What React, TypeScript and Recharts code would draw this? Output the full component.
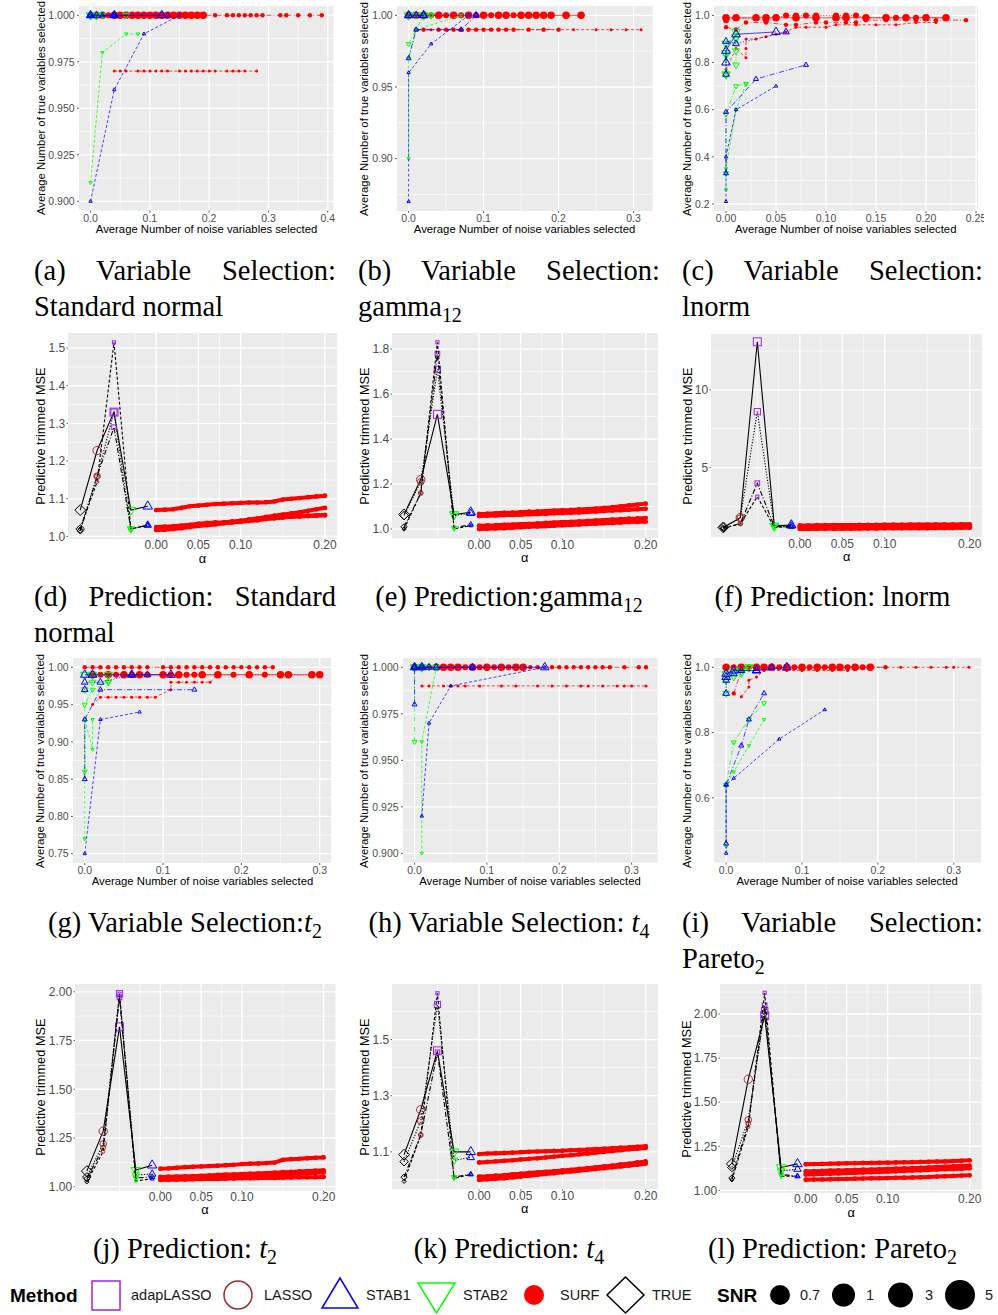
import React from "react";
import { ScatterChart, Scatter, XAxis, YAxis, CartesianGrid, ReferenceLine } from "recharts";

type Method = "adapLASSO" | "LASSO" | "STAB1" | "STAB2" | "SURF" | "TRUE";
type Snr = 0.7 | 1 | 3 | 5;

interface SelSeries { m: Method; snr: Snr; x: number[]; y: number | number[] }
interface MseSeries { snr: Snr; mse: number[] }

// ---- variable selection: x = avg noise vars selected, y = avg true vars selected ----

const selStdNormal: SelSeries[] = [
  { m: "SURF", snr: 5, x: [0.01, 0.02, 0.04, 0.05, 0.06, 0.07, 0.08, 0.09, 0.1, 0.11, 0.12, 0.13, 0.14, 0.15, 0.16, 0.17, 0.18, 0.19], y: 1 },
  { m: "SURF", snr: 3, x: [0, 0.01, 0.02, 0.03, 0.04, 0.05, 0.06, 0.07, 0.08, 0.09, 0.1, 0.11, 0.12, 0.13, 0.14, 0.15, 0.16, 0.17, 0.18, 0.19], y: 1 },
  { m: "SURF", snr: 1, x: [0.01, 0.02, 0.03, 0.04, 0.05, 0.06, 0.07, 0.08, 0.09, 0.1, 0.11, 0.12, 0.13, 0.14, 0.15, 0.16, 0.17, 0.18, 0.19, 0.21, 0.23, 0.24, 0.25, 0.26, 0.27, 0.28, 0.29, 0.32, 0.33, 0.35, 0.37, 0.39], y: 1 },
  { m: "SURF", snr: 0.7, x: [0.04, 0.05, 0.06, 0.08, 0.09, 0.1, 0.11, 0.12, 0.13, 0.15, 0.16, 0.17, 0.18, 0.19, 0.2, 0.21, 0.23, 0.24, 0.25, 0.26, 0.28], y: 0.97 },
  { m: "STAB2", snr: 5, x: [0, 0.01], y: 1 },
  { m: "STAB2", snr: 3, x: [0, 0.02, 0.06], y: 1 },
  { m: "STAB2", snr: 1, x: [0, 0.01, 0.02], y: 1 },
  { m: "STAB2", snr: 0.7, x: [0, 0.02, 0.06, 0.08], y: [0.91, 0.98, 0.99, 0.99] },
  { m: "STAB1", snr: 5, x: [0, 0.04, 0.12], y: 1 },
  { m: "STAB1", snr: 3, x: [0, 0.01, 0.04], y: 1 },
  { m: "STAB1", snr: 1, x: [0, 0.02, 0.04, 0.13], y: 1 },
  { m: "STAB1", snr: 0.7, x: [0, 0.04, 0.09, 0.15], y: [0.9, 0.96, 0.99, 1] },
];

const selGamma: SelSeries[] = [
  { m: "SURF", snr: 5, x: [0, 0.01, 0.02, 0.04, 0.06, 0.08, 0.1, 0.12, 0.13, 0.15, 0.16, 0.17, 0.18, 0.19, 0.21, 0.23], y: 1 },
  { m: "SURF", snr: 3, x: [0, 0.01, 0.02, 0.03, 0.04, 0.05, 0.06, 0.07, 0.08, 0.09, 0.1, 0.11, 0.12, 0.13, 0.14, 0.15, 0.16], y: 1 },
  { m: "SURF", snr: 1, x: [0.01, 0.02, 0.04, 0.05, 0.06, 0.07, 0.08, 0.09, 0.1, 0.11, 0.12, 0.13, 0.14, 0.16, 0.18, 0.2], y: 0.99 },
  { m: "SURF", snr: 0.7, x: [0.01, 0.02, 0.03, 0.04, 0.05, 0.06, 0.07, 0.08, 0.09, 0.1, 0.11, 0.12, 0.13, 0.14, 0.16, 0.18, 0.2, 0.22, 0.25, 0.27, 0.29, 0.31], y: 0.99 },
  { m: "STAB2", snr: 5, x: [0, 0.02], y: 1 },
  { m: "STAB2", snr: 3, x: [0, 0.01, 0.03], y: 1 },
  { m: "STAB2", snr: 1, x: [0, 0.02, 0.03], y: [0.98, 1, 1] },
  { m: "STAB2", snr: 0.7, x: [0, 0, 0.01, 0.07], y: [0.9, 0.97, 0.99, 1] },
  { m: "STAB1", snr: 5, x: [0, 0.02], y: 1 },
  { m: "STAB1", snr: 3, x: [0, 0.01, 0.02, 0.09], y: 1 },
  { m: "STAB1", snr: 1, x: [0, 0.01, 0.07, 0.09], y: [0.97, 0.99, 0.99, 1] },
  { m: "STAB1", snr: 0.7, x: [0, 0, 0.03, 0.08], y: [0.87, 0.96, 0.98, 1] },
];

const selLnorm: SelSeries[] = [
  { m: "SURF", snr: 5, x: [0, 0.01, 0.03, 0.04, 0.05, 0.07, 0.09, 0.11, 0.12, 0.14, 0.16, 0.18, 0.2, 0.22], y: 0.99 },
  { m: "SURF", snr: 3, x: [0, 0.01, 0.04, 0.06, 0.07, 0.08, 0.09, 0.11, 0.12, 0.13, 0.14, 0.16, 0.17, 0.18, 0.19, 0.2, 0.22], y: [0.98, 0.99, 0.98, 1, 1, 1, 1, 1, 1, 1, 0.99, 0.99, 0.99, 0.99, 0.99, 0.99, 0.99] },
  { m: "SURF", snr: 1, x: [0, 0.01, 0.02, 0.04, 0.06, 0.07, 0.09, 0.1, 0.12, 0.13, 0.14, 0.16, 0.19, 0.21, 0.24], y: [0.95, 0.94, 0.97, 0.97, 0.96, 0.96, 0.97, 0.97, 0.97, 0.97, 0.98, 0.98, 0.98, 0.98, 0.98] },
  { m: "SURF", snr: 0.7, x: [0, 0.01, 0.02, 0.02, 0.02, 0.03, 0.04, 0.05, 0.06, 0.07, 0.08, 0.1, 0.11, 0.13, 0.15, 0.17, 0.19, 0.21], y: [0.77, 0.86, 0.82, 0.86, 0.9, 0.9, 0.91, 0.92, 0.93, 0.95, 0.95, 0.95, 0.96, 0.96, 0.96, 0.96, 0.97, 0.97] },
  { m: "STAB2", snr: 5, x: [0, 0, 0, 0.01, 0.01], y: [0.75, 0.84, 0.88, 0.91, 0.93] },
  { m: "STAB2", snr: 3, x: [0, 0, 0.01, 0.01, 0.01], y: [0.75, 0.83, 0.79, 0.85, 0.9] },
  { m: "STAB2", snr: 1, x: [0, 0, 0.01, 0.02], y: [0.33, 0.58, 0.7, 0.71] },
  { m: "STAB2", snr: 0.7, x: [0, 0, 0.01, 0.02], y: [0.26, 0.35, 0.6, 0.71] },
  { m: "STAB1", snr: 5, x: [0, 0, 0.01, 0.05], y: [0.8, 0.85, 0.92, 0.93] },
  { m: "STAB1", snr: 3, x: [0, 0, 0.01, 0.06], y: [0.75, 0.89, 0.88, 0.93] },
  { m: "STAB1", snr: 1, x: [0, 0, 0.03, 0.08], y: [0.33, 0.59, 0.73, 0.79] },
  { m: "STAB1", snr: 0.7, x: [0, 0, 0.01, 0.05], y: [0.21, 0.4, 0.6, 0.7] },
];

const selT2: SelSeries[] = [
  { m: "SURF", snr: 5, x: [0.01, 0.03, 0.05, 0.07, 0.1, 0.12, 0.15, 0.17, 0.21, 0.25, 0.26, 0.29, 0.3], y: 0.99 },
  { m: "SURF", snr: 3, x: [0.01, 0.02, 0.03, 0.04, 0.05, 0.06, 0.07, 0.08, 0.1, 0.11, 0.12, 0.13, 0.14, 0.15, 0.17, 0.19, 0.21, 0.23, 0.25, 0.26, 0.29, 0.3], y: 0.99 },
  { m: "SURF", snr: 1, x: [0, 0.01, 0.02, 0.03, 0.04, 0.05, 0.06, 0.07, 0.08, 0.1, 0.11, 0.12, 0.13, 0.14, 0.15, 0.16, 0.17, 0.18, 0.19, 0.2, 0.21, 0.22, 0.23, 0.24], y: 1 },
  { m: "SURF", snr: 0.7, x: [0.01, 0.02, 0.03, 0.04, 0.05, 0.06, 0.07, 0.08, 0.09, 0.11, 0.11, 0.12, 0.13, 0.14, 0.15, 0.16, 0.17], y: [0.95, 0.96, 0.96, 0.96, 0.96, 0.96, 0.96, 0.96, 0.96, 0.97, 0.98, 0.98, 0.98, 0.98, 0.98, 0.98, 0.99] },
  { m: "STAB2", snr: 5, x: [0, 0.01, 0.03], y: 0.99 },
  { m: "STAB2", snr: 3, x: [0, 0.01, 0.03], y: [0.97, 0.98, 0.98] },
  { m: "STAB2", snr: 1, x: [0, 0, 0.01, 0.03], y: [0.86, 0.95, 0.97, 0.98] },
  { m: "STAB2", snr: 0.7, x: [0, 0, 0.01, 0.01], y: [0.77, 0.93, 0.89, 0.93] },
  { m: "STAB1", snr: 5, x: [0, 0.01, 0.06, 0.11], y: 0.99 },
  { m: "STAB1", snr: 3, x: [0, 0, 0.02, 0.06, 0.08], y: [0.97, 0.98, 0.98, 0.99, 0.99] },
  { m: "STAB1", snr: 1, x: [0, 0, 0.02, 0.14], y: [0.85, 0.93, 0.97, 0.97] },
  { m: "STAB1", snr: 0.7, x: [0, 0.02, 0.07], y: [0.75, 0.93, 0.94] },
];

const selT4: SelSeries[] = [
  { m: "SURF", snr: 5, x: [0, 0.01, 0.03, 0.04, 0.05, 0.06, 0.08, 0.1, 0.12, 0.14, 0.15], y: 1 },
  { m: "SURF", snr: 3, x: [0, 0.01, 0.02, 0.03, 0.04, 0.05, 0.06, 0.07, 0.08, 0.09, 0.1, 0.11, 0.12, 0.13, 0.14, 0.15], y: 1 },
  { m: "SURF", snr: 1, x: [0, 0.01, 0.02, 0.03, 0.04, 0.05, 0.06, 0.07, 0.08, 0.09, 0.1, 0.11, 0.12, 0.13, 0.14, 0.15, 0.16, 0.17, 0.19, 0.2, 0.21, 0.22, 0.23, 0.24, 0.25, 0.26, 0.27, 0.29, 0.31, 0.32], y: 1 },
  { m: "SURF", snr: 0.7, x: [0.01, 0.02, 0.04, 0.05, 0.06, 0.07, 0.09, 0.12, 0.14, 0.17, 0.19, 0.21, 0.23, 0.24, 0.26, 0.28, 0.29, 0.3, 0.32], y: 0.99 },
  { m: "STAB2", snr: 5, x: [0, 0.01], y: 1 },
  { m: "STAB2", snr: 3, x: [0, 0.02, 0.03], y: 1 },
  { m: "STAB2", snr: 1, x: [0, 0, 0.01, 0.03], y: [0.96, 1, 1, 1] },
  { m: "STAB2", snr: 0.7, x: [0.01, 0.01, 0.03], y: [0.9, 0.96, 1] },
  { m: "STAB1", snr: 5, x: [0, 0.01, 0.18], y: 1 },
  { m: "STAB1", snr: 3, x: [0, 0.02, 0.03, 0.08], y: 1 },
  { m: "STAB1", snr: 1, x: [0, 0, 0.01, 0.08], y: [0.98, 1, 1, 1] },
  { m: "STAB1", snr: 0.7, x: [0.01, 0.02, 0.05, 0.18], y: [0.92, 0.97, 0.99, 1] },
];

const selPareto: SelSeries[] = [
  { m: "SURF", snr: 5, x: [0, 0.02, 0.04, 0.05, 0.06, 0.08, 0.1, 0.12, 0.14, 0.15, 0.17, 0.19], y: 1 },
  { m: "SURF", snr: 3, x: [0, 0.01, 0.02, 0.03, 0.04, 0.05, 0.06, 0.07, 0.08, 0.09, 0.1, 0.11, 0.12, 0.13, 0.14, 0.15, 0.16, 0.17, 0.18, 0.19], y: 1 },
  { m: "SURF", snr: 1, x: [0.01, 0.02, 0.04, 0.06, 0.08, 0.1, 0.12, 0.13, 0.15, 0.16, 0.18, 0.19, 0.21], y: [0.92, 0.99, 1, 1, 1, 1, 1, 1, 1, 1, 1, 1, 1] },
  { m: "SURF", snr: 0.7, x: [0.02, 0.03, 0.03, 0.04, 0.05, 0.08, 0.1, 0.12, 0.14, 0.16, 0.19, 0.21, 0.23, 0.25, 0.27, 0.29, 0.3, 0.32], y: [0.91, 0.94, 0.96, 0.97, 0.99, 0.99, 0.99, 0.99, 0.99, 0.99, 1, 1, 1, 1, 1, 1, 1, 1] },
  { m: "STAB2", snr: 5, x: [0, 0.01, 0.02, 0.03], y: [0.98, 0.99, 0.99, 1] },
  { m: "STAB2", snr: 3, x: [0, 0, 0.01, 0.02, 0.03], y: [0.92, 0.96, 0.97, 0.98, 1] },
  { m: "STAB2", snr: 1, x: [0, 0.01, 0.03, 0.05], y: [0.64, 0.77, 0.84, 0.89] },
  { m: "STAB2", snr: 0.7, x: [0, 0, 0.01, 0.03, 0.05], y: [0.45, 0.64, 0.68, 0.76, 0.84] },
  { m: "STAB1", snr: 5, x: [0, 0, 0.01, 0.04, 0.08], y: [0.97, 0.98, 0.99, 0.99, 1] },
  { m: "STAB1", snr: 3, x: [0, 0, 0.01, 0.02, 0.04, 0.06], y: [0.92, 0.96, 0.98, 0.99, 0.99, 1] },
  { m: "STAB1", snr: 1, x: [0, 0, 0.02, 0.03, 0.05], y: [0.46, 0.64, 0.76, 0.84, 0.92] },
  { m: "STAB1", snr: 0.7, x: [0, 0, 0.01, 0.07, 0.13], y: [0.43, 0.64, 0.66, 0.78, 0.87] },
];

// ---- prediction: trimmed MSE per method (order of predMethods) ----

const predMethods: Method[] = ["TRUE", "LASSO", "adapLASSO", "STAB2", "STAB1"];

const predStdNormal: MseSeries[] = [
  { snr: 5, mse: [1.07, 1.228, 1.33, 1.07, 1.08] },
  { snr: 3, mse: [1.02, 1.16, 1.33, 1.02, 1.03] },
  { snr: 1, mse: [1.015, 1.16, 1.29, 1.02, 1.03] },
  { snr: 0.7, mse: [1.02, 1.145, 1.515, 1.02, 1.03] },
];
const predGamma: MseSeries[] = [
  { snr: 5, mse: [1.065, 1.22, 1.51, 1.065, 1.075] },
  { snr: 3, mse: [1.06, 1.21, 1.71, 1.06, 1.07] },
  { snr: 1, mse: [1.01, 1.16, 1.78, 1.005, 1.02] },
  { snr: 0.7, mse: [1.0, 1.16, 1.83, 1.0, 1.015] },
];
const predLnorm: MseSeries[] = [
  { snr: 5, mse: [1.15, 1.78, 13.1, 1.25, 1.3] },
  { snr: 3, mse: [1.15, 1.75, 8.6, 1.25, 1.25] },
  { snr: 1, mse: [1.1, 1.4, 4.0, 1.2, 1.2] },
  { snr: 0.7, mse: [1.1, 1.37, 3.13, 1.15, 1.2] },
];
const predT2: MseSeries[] = [
  { snr: 5, mse: [1.08, 1.285, 1.82, 1.085, 1.11] },
  { snr: 3, mse: [1.05, 1.22, 1.99, 1.06, 1.065] },
  { snr: 1, mse: [1.04, 1.2, 1.97, 1.045, 1.05] },
  { snr: 0.7, mse: [1.025, 1.18, 1.99, 1.03, 1.04] },
];
const predT4: MseSeries[] = [
  { snr: 5, mse: [1.09, 1.25, 1.46, 1.1, 1.1] },
  { snr: 3, mse: [1.065, 1.21, 1.625, 1.07, 1.08] },
  { snr: 1, mse: [1.01, 1.16, 1.455, 1.01, 1.02] },
  { snr: 0.7, mse: [0.995, 1.16, 1.665, 1.005, 1.02] },
];
const predPareto: MseSeries[] = [
  { snr: 5, mse: [1.15, 1.63, 1.99, 1.13, 1.15] },
  { snr: 3, mse: [1.13, 1.4, 2.02, 1.11, 1.12] },
  { snr: 1, mse: [1.07, 1.38, 2.05, 1.09, 1.08] },
  { snr: 0.7, mse: [1.06, 1.36, 2.12, 1.08, 1.08] },
];

// SURF trimmed MSE along alpha
const alphaGrid = [0, 0.01, 0.02, 0.03, 0.04, 0.05, 0.06, 0.07, 0.08, 0.09, 0.1, 0.11, 0.12, 0.13, 0.14, 0.15, 0.16, 0.17, 0.18, 0.19, 0.2];

const surfStdNormal: MseSeries[] = [
  { snr: 5, mse: [1.07, 1.071, 1.072, 1.076, 1.08, 1.082, 1.084, 1.086, 1.087, 1.088, 1.089, 1.09, 1.09, 1.091, 1.093, 1.098, 1.1, 1.102, 1.104, 1.106, 1.108] },
  { snr: 3, mse: [1.025, 1.026, 1.027, 1.029, 1.031, 1.034, 1.036, 1.037, 1.038, 1.04, 1.042, 1.045, 1.048, 1.052, 1.055, 1.058, 1.061, 1.064, 1.068, 1.072, 1.076] },
  { snr: 1, mse: [1.02, 1.021, 1.023, 1.025, 1.027, 1.03, 1.032, 1.034, 1.036, 1.038, 1.04, 1.042, 1.044, 1.047, 1.049, 1.051, 1.053, 1.054, 1.055, 1.056, 1.057] },
  { snr: 0.7, mse: [1.017, 1.018, 1.02, 1.022, 1.025, 1.028, 1.03, 1.032, 1.035, 1.037, 1.039, 1.041, 1.043, 1.046, 1.048, 1.05, 1.052, 1.053, 1.054, 1.055, 1.056] },
];
const surfGamma: MseSeries[] = [
  { snr: 5, mse: [1.067, 1.068, 1.07, 1.072, 1.073, 1.075, 1.077, 1.078, 1.08, 1.082, 1.084, 1.085, 1.087, 1.089, 1.091, 1.094, 1.097, 1.101, 1.105, 1.109, 1.113] },
  { snr: 3, mse: [1.058, 1.059, 1.06, 1.062, 1.063, 1.064, 1.066, 1.067, 1.068, 1.07, 1.071, 1.073, 1.074, 1.076, 1.078, 1.08, 1.082, 1.084, 1.086, 1.088, 1.09] },
  { snr: 1, mse: [1.015, 1.016, 1.017, 1.019, 1.02, 1.022, 1.023, 1.025, 1.027, 1.029, 1.031, 1.032, 1.034, 1.036, 1.038, 1.04, 1.042, 1.044, 1.046, 1.047, 1.049] },
  { snr: 0.7, mse: [1.0, 1.001, 1.003, 1.004, 1.006, 1.008, 1.01, 1.011, 1.013, 1.015, 1.017, 1.018, 1.02, 1.022, 1.024, 1.026, 1.027, 1.029, 1.031, 1.032, 1.033] },
];
const surfLnorm: MseSeries[] = [
  { snr: 5, mse: [1.28, 1.28, 1.29, 1.29, 1.3, 1.3, 1.3, 1.31, 1.31, 1.31, 1.32, 1.32, 1.32, 1.33, 1.33, 1.33, 1.34, 1.34, 1.34, 1.35, 1.35] },
  { snr: 3, mse: [1.2, 1.2, 1.21, 1.21, 1.22, 1.22, 1.22, 1.23, 1.23, 1.24, 1.24, 1.24, 1.25, 1.25, 1.26, 1.26, 1.26, 1.27, 1.27, 1.28, 1.28] },
  { snr: 1, mse: [1.12, 1.12, 1.13, 1.13, 1.14, 1.14, 1.14, 1.15, 1.15, 1.16, 1.16, 1.16, 1.17, 1.17, 1.18, 1.18, 1.18, 1.19, 1.19, 1.2, 1.2] },
  { snr: 0.7, mse: [1.05, 1.05, 1.06, 1.06, 1.06, 1.07, 1.07, 1.07, 1.08, 1.08, 1.09, 1.09, 1.09, 1.1, 1.1, 1.1, 1.11, 1.11, 1.11, 1.12, 1.12] },
];
const surfT2: MseSeries[] = [
  { snr: 5, mse: [1.092, 1.094, 1.097, 1.1, 1.102, 1.104, 1.106, 1.108, 1.11, 1.112, 1.116, 1.118, 1.119, 1.121, 1.124, 1.138, 1.141, 1.143, 1.146, 1.148, 1.15] },
  { snr: 3, mse: [1.05, 1.051, 1.052, 1.053, 1.054, 1.056, 1.058, 1.06, 1.062, 1.063, 1.065, 1.067, 1.068, 1.07, 1.072, 1.074, 1.076, 1.078, 1.08, 1.082, 1.084] },
  { snr: 1, mse: [1.04, 1.041, 1.042, 1.043, 1.044, 1.046, 1.047, 1.049, 1.05, 1.052, 1.054, 1.056, 1.057, 1.059, 1.061, 1.063, 1.065, 1.067, 1.069, 1.071, 1.073] },
  { snr: 0.7, mse: [1.034, 1.035, 1.036, 1.037, 1.038, 1.039, 1.04, 1.04, 1.041, 1.042, 1.043, 1.043, 1.044, 1.045, 1.045, 1.046, 1.047, 1.048, 1.048, 1.049, 1.05] },
];
const surfT4: MseSeries[] = [
  { snr: 5, mse: [1.092, 1.094, 1.095, 1.096, 1.097, 1.099, 1.1, 1.101, 1.102, 1.103, 1.104, 1.106, 1.107, 1.108, 1.11, 1.111, 1.113, 1.115, 1.116, 1.118, 1.12] },
  { snr: 3, mse: [1.062, 1.064, 1.066, 1.068, 1.07, 1.073, 1.075, 1.077, 1.08, 1.083, 1.086, 1.088, 1.091, 1.094, 1.097, 1.1, 1.103, 1.106, 1.109, 1.111, 1.114] },
  { snr: 1, mse: [1.012, 1.013, 1.015, 1.017, 1.02, 1.022, 1.025, 1.027, 1.029, 1.031, 1.034, 1.036, 1.039, 1.042, 1.045, 1.048, 1.051, 1.055, 1.058, 1.062, 1.066] },
  { snr: 0.7, mse: [1.0, 1.002, 1.004, 1.006, 1.009, 1.012, 1.015, 1.018, 1.021, 1.024, 1.027, 1.03, 1.033, 1.036, 1.039, 1.042, 1.045, 1.048, 1.051, 1.054, 1.058] },
];
const surfPareto: MseSeries[] = [
  { snr: 5, mse: [1.148, 1.149, 1.15, 1.151, 1.152, 1.153, 1.154, 1.155, 1.155, 1.156, 1.157, 1.158, 1.159, 1.16, 1.161, 1.162, 1.163, 1.164, 1.166, 1.168, 1.17] },
  { snr: 3, mse: [1.108, 1.109, 1.11, 1.112, 1.113, 1.114, 1.116, 1.117, 1.118, 1.12, 1.121, 1.123, 1.124, 1.126, 1.128, 1.13, 1.132, 1.134, 1.136, 1.138, 1.14] },
  { snr: 1, mse: [1.09, 1.091, 1.093, 1.094, 1.096, 1.098, 1.099, 1.101, 1.103, 1.104, 1.106, 1.108, 1.11, 1.112, 1.114, 1.116, 1.118, 1.12, 1.121, 1.123, 1.125] },
  { snr: 0.7, mse: [1.06, 1.061, 1.062, 1.063, 1.064, 1.065, 1.066, 1.067, 1.068, 1.069, 1.07, 1.071, 1.072, 1.073, 1.074, 1.076, 1.078, 1.08, 1.082, 1.084, 1.085] },
];

// ---- styling ----

const SANS = "'Liberation Sans', Arial, Helvetica, sans-serif";
const SERIF = "'Liberation Serif', 'Times New Roman', serif";

const COLOR: Record<Method, string> = {
  adapLASSO: "#A020F0",
  LASSO: "#A52A2A",
  STAB1: "#0000FF",
  STAB2: "#00FF00",
  SURF: "#FF0000",
  TRUE: "#000000",
};
const RADIUS: Record<number, number> = { 0.7: 1.5, 1: 2.2, 3: 3, 5: 3.8 };
const DASH: Record<number, string | undefined> = { 0.7: "3 2", 1: "5 2 1 2", 3: "1.2 1.6", 5: undefined };
const drawOrder: Method[] = ["SURF", "TRUE", "adapLASSO", "LASSO", "STAB2", "STAB1"];

// method slots left of alpha = 0 on the prediction axis
const SLOT_START = -0.09;
const SLOT_STEP = 0.02;

function Marker({ cx, cy, m, r }: { cx: number; cy: number; m: Method; r: number }) {
  const c = COLOR[m];
  const sw = 1;
  if (cx == null || cy == null) return null;
  switch (m) {
    case "SURF":
      return <circle cx={cx} cy={cy} r={r} fill={c} />;
    case "LASSO":
      return <circle cx={cx} cy={cy} r={r} fill="none" stroke={c} strokeWidth={sw} />;
    case "adapLASSO": {
      const h = r * 0.95;
      return <rect x={cx - h} y={cy - h} width={2 * h} height={2 * h} fill="none" stroke={c} strokeWidth={sw} />;
    }
    case "STAB1": {
      const R = r * 1.3;
      return <polygon points={`${cx},${cy - R} ${cx - R * 0.87},${cy + R * 0.5} ${cx + R * 0.87},${cy + R * 0.5}`} fill="none" stroke={c} strokeWidth={sw} />;
    }
    case "STAB2": {
      const R = r * 1.3;
      return <polygon points={`${cx},${cy + R} ${cx - R * 0.87},${cy - R * 0.5} ${cx + R * 0.87},${cy - R * 0.5}`} fill="none" stroke={c} strokeWidth={sw} />;
    }
    default: {
      const R = r * 1.3;
      return <polygon points={`${cx},${cy - R} ${cx + R},${cy} ${cx},${cy + R} ${cx - R},${cy}`} fill="none" stroke={c} strokeWidth={sw} />;
    }
  }
}

function selScatters(list: SelSeries[]) {
  const sorted = [...list].sort((a, b) => drawOrder.indexOf(a.m) - drawOrder.indexOf(b.m) || b.snr - a.snr);
  return sorted.map((s, i) => {
    const pts = s.x.map((x, k) => ({ x, y: Array.isArray(s.y) ? s.y[k] : s.y }));
    const c = COLOR[s.m];
    const r = RADIUS[s.snr];
    return (
      <Scatter
        key={`sel-${i}`}
        data={pts}
        fill={c}
        isAnimationActive={false}
        lineJointType="linear"
        line={{ stroke: c, strokeWidth: 0.9, strokeDasharray: DASH[s.snr], strokeOpacity: 0.8 }}
        shape={(p: any) => <Marker cx={p.cx} cy={p.cy} m={s.m} r={r} />}
      />
    );
  });
}

function predScatters(methods: MseSeries[], surf: MseSeries[]) {
  const out: React.ReactNode[] = [];
  surf.forEach((s, i) => {
    const pts = alphaGrid.map((a, k) => ({ x: a, y: s.mse[k] }));
    out.push(
      <Scatter
        key={`surf-${i}`}
        data={pts}
        fill="#FF0000"
        isAnimationActive={false}
        lineJointType="linear"
        line={{ stroke: "#FF0000", strokeWidth: 4 }}
        shape={(p: any) => <Marker cx={p.cx} cy={p.cy} m="SURF" r={2.4} />}
      />
    );
  });
  methods.forEach((s, i) => {
    const pts = s.mse.map((y, k) => ({ x: SLOT_START + SLOT_STEP * k, y, m: predMethods[k] }));
    const r = RADIUS[s.snr] * 1.1;
    out.push(
      <Scatter
        key={`pred-${i}`}
        data={pts}
        fill="#000"
        isAnimationActive={false}
        lineJointType="linear"
        line={{ stroke: "#000", strokeWidth: 1.1, strokeDasharray: DASH[s.snr] }}
        shape={(p: any) => <Marker cx={p.cx} cy={p.cy} m={(p.payload && p.payload.m) || p.m} r={r} />}
      />
    );
  });
  return out;
}

// ---- panel layout ----

interface PanelSpec {
  box: [number, number, number, number];
  xDomain: [number, number];
  yDomain: [number, number];
  xTicks: number[];
  xLabels: string[];
  xMinor: number[];
  yTicks: number[];
  yLabels: string[];
  yMinor: number[];
  kind: "sel" | "pred";
  clipRight?: number;
}

const selXTitle = "Average Number of noise variables selected";
const selYTitle = "Average Number of true variables selected";
const predXTitle = "α";
const predYTitle = "Predictive trimmed MSE";

const predX = { xTicks: [0, 0.05, 0.1, 0.2], xLabels: ["0.00", "0.05", "0.10", "0.20"], xMinor: [-0.05, -0.025, 0.025, 0.075, 0.15], xDomain: [-0.1045, 0.2145] as [number, number] };

function textWidth(s: string, f: number) {
  let w = 0;
  for (const ch of s) w += ch === "." ? 0.278 : 0.556;
  return w * f;
}

function Panel({ spec, children }: { spec: PanelSpec; children: React.ReactNode }) {
  const [l, t, r, b] = spec.box;
  const sel = spec.kind === "sel";
  const tickFont = sel ? 10.5 : 12;
  const titleFont = sel ? 11.3 : 12.8;
  const LEFT = 60, TOP = 8, RIGHT = 14, BOTTOM = 24;
  const w = r - l, h = b - t;
  const chartW = w + LEFT + RIGHT;
  const chartH = h + TOP + BOTTOM;
  const wrapLeft = l - LEFT;
  const wrapW = spec.clipRight ? spec.clipRight - wrapLeft : chartW;
  const tickSize = sel ? 2 : 1.5;
  const yMargin = sel ? 2.4 : 1.3;
  const xMargin = sel ? 1.5 : 0.3;
  const labelW = Math.max(...spec.yLabels.map((s) => textWidth(s, tickFont)));
  const yTitleX = l - labelW - tickSize - yMargin - (sel ? 8 : 7.5);
  const xTitleY = b + (sel ? 19 : 20);
  const fmt = (labels: string[], ticks: number[]) => (v: number) => {
    const k = ticks.findIndex((tv) => Math.abs(tv - v) < 1e-9);
    return k >= 0 ? labels[k] : "";
  };
  return (
    <>
      <div style={{ position: "absolute", left: wrapLeft, top: t - TOP, width: wrapW, height: chartH, overflow: "hidden" }}>
        <ScatterChart width={chartW} height={chartH} margin={{ top: TOP, right: RIGHT, bottom: 0, left: 0 }}>
          <CartesianGrid fill="#EBEBEB" fillOpacity={1} horizontal={false} vertical={false} />
          <XAxis
            type="number"
            dataKey="x"
            domain={spec.xDomain}
            allowDataOverflow
            ticks={spec.xTicks}
            interval={0}
            tickFormatter={fmt(spec.xLabels, spec.xTicks)}
            axisLine={false}
            tickLine={{ stroke: "#333333", strokeWidth: 0.8 }}
            tickSize={tickSize}
            tickMargin={xMargin}
            height={BOTTOM}
            tick={{ fontSize: tickFont, fill: "#4D4D4D", fontFamily: SANS }}
          />
          <YAxis
            type="number"
            dataKey="y"
            domain={spec.yDomain}
            allowDataOverflow
            ticks={spec.yTicks}
            interval={0}
            tickFormatter={fmt(spec.yLabels, spec.yTicks)}
            axisLine={false}
            tickLine={{ stroke: "#333333", strokeWidth: 0.8 }}
            tickSize={tickSize}
            tickMargin={yMargin}
            width={LEFT}
            tick={{ fontSize: tickFont, fill: "#4D4D4D", fontFamily: SANS }}
          />
          {spec.yMinor.map((v) => (
            <ReferenceLine key={`ym${v}`} y={v} stroke="#FFFFFF" strokeWidth={0.65} />
          ))}
          {spec.xMinor.map((v) => (
            <ReferenceLine key={`xm${v}`} x={v} stroke="#FFFFFF" strokeWidth={0.65} />
          ))}
          {spec.yTicks.map((v) => (
            <ReferenceLine key={`yM${v}`} y={v} stroke="#FFFFFF" strokeWidth={1.3} />
          ))}
          {spec.xTicks.map((v) => (
            <ReferenceLine key={`xM${v}`} x={v} stroke="#FFFFFF" strokeWidth={1.3} />
          ))}
          {children}
        </ScatterChart>
      </div>
      <div
        style={{
          position: "absolute",
          left: l,
          width: w,
          top: xTitleY - titleFont / 2,
          height: titleFont,
          lineHeight: `${titleFont}px`,
          textAlign: "center",
          fontFamily: SANS,
          fontSize: titleFont,
          color: "#000",
          whiteSpace: "nowrap",
        }}
      >
        {sel ? selXTitle : predXTitle}
      </div>
      <div
        style={{
          position: "absolute",
          left: yTitleX - 150,
          top: (t + b) / 2 - 8,
          width: 300,
          height: 16,
          lineHeight: "16px",
          textAlign: "center",
          transform: "rotate(-90deg)",
          fontFamily: SANS,
          fontSize: titleFont,
          color: "#000",
          whiteSpace: "nowrap",
        }}
      >
        {sel ? selYTitle : predYTitle}
      </div>
    </>
  );
}

const panelA: PanelSpec = {
  kind: "sel", box: [79.4, 6, 333.8, 210.6], xDomain: [-0.0195, 0.4095], yDomain: [0.895, 1.005],
  xTicks: [0, 0.1, 0.2, 0.3, 0.4], xLabels: ["0.0", "0.1", "0.2", "0.3", "0.4"], xMinor: [0.05, 0.15, 0.25, 0.35],
  yTicks: [0.9, 0.925, 0.95, 0.975, 1], yLabels: ["0.900", "0.925", "0.950", "0.975", "1.000"], yMinor: [0.9125, 0.9375, 0.9625, 0.9875],
};
const panelB: PanelSpec = {
  kind: "sel", box: [396.7, 6, 652.4, 211], xDomain: [-0.0155, 0.3255], yDomain: [0.8635, 1.0065],
  xTicks: [0, 0.1, 0.2, 0.3], xLabels: ["0.0", "0.1", "0.2", "0.3"], xMinor: [0.05, 0.15, 0.25],
  yTicks: [0.9, 0.95, 1], yLabels: ["0.90", "0.95", "1.00"], yMinor: [0.875, 0.925, 0.975],
};
const panelC: PanelSpec = {
  kind: "sel", box: [713.7, 6, 977.7, 211], xDomain: [-0.012, 0.252], yDomain: [0.17, 1.04], clipRight: 984,
  xTicks: [0, 0.05, 0.1, 0.15, 0.2, 0.25], xLabels: ["0.00", "0.05", "0.10", "0.15", "0.20", "0.25"], xMinor: [0.025, 0.075, 0.125, 0.175, 0.225],
  yTicks: [0.2, 0.4, 0.6, 0.8, 1], yLabels: ["0.2", "0.4", "0.6", "0.8", "1.0"], yMinor: [0.3, 0.5, 0.7, 0.9],
};
const panelD: PanelSpec = {
  kind: "pred", box: [67.8, 333.2, 337, 539.3], yDomain: [0.993, 1.54], ...predX,
  yTicks: [1, 1.1, 1.2, 1.3, 1.4, 1.5], yLabels: ["1.0", "1.1", "1.2", "1.3", "1.4", "1.5"], yMinor: [1.05, 1.15, 1.25, 1.35, 1.45],
};
const panelE: PanelSpec = {
  kind: "pred", box: [391.9, 333.2, 657.7, 538.6], yDomain: [0.9585, 1.8715], ...predX,
  yTicks: [1, 1.2, 1.4, 1.6, 1.8], yLabels: ["1.0", "1.2", "1.4", "1.6", "1.8"], yMinor: [1.1, 1.3, 1.5, 1.7],
};
const panelF: PanelSpec = {
  kind: "pred", box: [711.2, 334, 982.3, 537.5], yDomain: [0.5, 13.6], ...predX,
  yTicks: [5, 10], yLabels: ["5", "10"], yMinor: [2.5, 7.5, 12.5],
};
const panelG: PanelSpec = {
  kind: "sel", box: [73.25, 658, 331.7, 863], xDomain: [-0.015, 0.315], yDomain: [0.7375, 1.0125],
  xTicks: [0, 0.1, 0.2, 0.3], xLabels: ["0.0", "0.1", "0.2", "0.3"], xMinor: [0.05, 0.15, 0.25],
  yTicks: [0.75, 0.8, 0.85, 0.9, 0.95, 1], yLabels: ["0.75", "0.80", "0.85", "0.90", "0.95", "1.00"], yMinor: [0.775, 0.825, 0.875, 0.925, 0.975],
};
const panelH: PanelSpec = {
  kind: "sel", box: [402.7, 658.4, 657.3, 863], xDomain: [-0.016, 0.336], yDomain: [0.895, 1.005],
  xTicks: [0, 0.1, 0.2, 0.3], xLabels: ["0.0", "0.1", "0.2", "0.3"], xMinor: [0.05, 0.15, 0.25],
  yTicks: [0.9, 0.925, 0.95, 0.975, 1], yLabels: ["0.900", "0.925", "0.950", "0.975", "1.000"], yMinor: [0.9125, 0.9375, 0.9625, 0.9875],
};
const panelI: PanelSpec = {
  kind: "sel", box: [713.6, 658.4, 980.7, 863], xDomain: [-0.016, 0.336], yDomain: [0.4015, 1.0285],
  xTicks: [0, 0.1, 0.2, 0.3], xLabels: ["0.0", "0.1", "0.2", "0.3"], xMinor: [0.05, 0.15, 0.25],
  yTicks: [0.6, 0.8, 1], yLabels: ["0.6", "0.8", "1.0"], yMinor: [0.5, 0.7, 0.9],
};
const panelJ: PanelSpec = {
  kind: "pred", box: [74.7, 984, 335.2, 1190.6], yDomain: [0.98, 2.04], ...predX,
  yTicks: [1, 1.25, 1.5, 1.75, 2], yLabels: ["1.00", "1.25", "1.50", "1.75", "2.00"], yMinor: [1.125, 1.375, 1.625, 1.875],
};
const panelK: PanelSpec = {
  kind: "pred", box: [391.9, 984.4, 657.7, 1189.6], yDomain: [0.967, 1.698], ...predX,
  yTicks: [1.1, 1.3, 1.5], yLabels: ["1.1", "1.3", "1.5"], yMinor: [1.0, 1.2, 1.4, 1.6],
};
const panelL: PanelSpec = {
  kind: "pred", box: [720.3, 984, 981.9, 1193], yDomain: [0.985, 2.17], ...predX,
  yTicks: [1, 1.25, 1.5, 1.75, 2], yLabels: ["1.00", "1.25", "1.50", "1.75", "2.00"], yMinor: [1.125, 1.375, 1.625, 1.875, 2.125],
};

// ---- captions ----

const CAP_FONT = 28.5;

function Sub({ children }: { children: React.ReactNode }) {
  return <span style={{ fontSize: "0.7em", position: "relative", top: "0.33em", lineHeight: 0 }}>{children}</span>;
}

function CapLine({ left, width, baseline, align, children }: { left: number; width: number; baseline: number; align: "justify" | "left" | "center"; children: React.ReactNode }) {
  return (
    <div
      style={{
        position: "absolute",
        left,
        width,
        top: baseline - 27.7,
        height: 36,
        lineHeight: "36px",
        fontFamily: SERIF,
        fontSize: CAP_FONT,
        color: "#000",
        textAlign: align,
        textAlignLast: align as any,
      }}
    >
      {children}
    </div>
  );
}

const COL = [
  { left: 34, width: 302 },
  { left: 358, width: 302 },
  { left: 682, width: 301 },
];

function Captions() {
  return (
    <>
      <CapLine {...COL[0]} baseline={280.4} align="justify">(a) Variable Selection:</CapLine>
      <CapLine {...COL[0]} baseline={316.4} align="left">Standard normal</CapLine>
      <CapLine {...COL[1]} baseline={280.4} align="justify">(b) Variable Selection:</CapLine>
      <CapLine {...COL[1]} baseline={316.4} align="left">gamma<Sub>12</Sub></CapLine>
      <CapLine {...COL[2]} baseline={280.4} align="justify">(c) Variable Selection:</CapLine>
      <CapLine {...COL[2]} baseline={316.4} align="left">lnorm</CapLine>

      <CapLine {...COL[0]} baseline={606.4} align="justify">(d) Prediction: Standard</CapLine>
      <CapLine {...COL[0]} baseline={642.4} align="left">normal</CapLine>
      <CapLine {...COL[1]} baseline={606.4} align="center">(e) Prediction:gamma<Sub>12</Sub></CapLine>
      <CapLine {...COL[2]} baseline={606.4} align="center">(f) Prediction: lnorm</CapLine>

      <CapLine {...COL[0]} baseline={932.4} align="center">(g) Variable Selection:<i>t</i><Sub>2</Sub></CapLine>
      <CapLine {...COL[1]} baseline={932.4} align="center">(h) Variable Selection: <i>t</i><Sub>4</Sub></CapLine>
      <CapLine {...COL[2]} baseline={932.4} align="justify">(i) Variable Selection:</CapLine>
      <CapLine {...COL[2]} baseline={968.4} align="left">Pareto<Sub>2</Sub></CapLine>

      <CapLine {...COL[0]} baseline={1258.4} align="center">(j) Prediction: <i>t</i><Sub>2</Sub></CapLine>
      <CapLine {...COL[1]} baseline={1258.4} align="center">(k) Prediction: <i>t</i><Sub>4</Sub></CapLine>
      <CapLine {...COL[2]} baseline={1258.4} align="center">(l) Prediction: Pareto<Sub>2</Sub></CapLine>
    </>
  );
}

// ---- shared key ----

const keyMethods: Method[] = ["adapLASSO", "LASSO", "STAB1", "STAB2", "SURF", "TRUE"];
const keySnr: Snr[] = [0.7, 1, 3, 5];

function MethodKey() {
  const cy = 19;
  const label = { fontFamily: SANS, fontSize: 14.5, fill: "#1a1a1a" } as const;
  const head = { fontFamily: SANS, fontSize: 19, fontWeight: 700, fill: "#000" } as const;
  const methodX: Record<Method, number> = { adapLASSO: 106, LASSO: 238, STAB1: 340, STAB2: 436.5, SURF: 534, TRUE: 625.5 };
  const labelX: Record<Method, number> = { adapLASSO: 131, LASSO: 264, STAB1: 366, STAB2: 463, SURF: 560, TRUE: 652 };
  const snrX = [780, 843.5, 900.5, 960];
  const snrR = [10, 11.5, 12.5, 15];
  const snrLabelX = [800, 866, 925, 985];
  return (
    <svg width={998} height={39} style={{ position: "absolute", left: 0, top: 1276 }}>
      <text x={10} y={cy + 7} {...head}>Method</text>
      {keyMethods.map((m) => {
        const x = methodX[m];
        const c = COLOR[m];
        let shape: React.ReactNode;
        if (m === "adapLASSO") shape = <rect x={x - 14} y={5} width={28} height={29} fill="none" stroke={c} strokeWidth={1.5} />;
        else if (m === "LASSO") shape = <circle cx={x} cy={cy} r={14} fill="none" stroke={c} strokeWidth={1.5} />;
        else if (m === "STAB1") shape = <polygon points={`${x},2 ${x - 18},32 ${x + 18},32`} fill="none" stroke={c} strokeWidth={1.5} />;
        else if (m === "STAB2") shape = <polygon points={`${x - 18.5},7 ${x + 18.5},7 ${x},37`} fill="none" stroke={c} strokeWidth={1.5} />;
        else if (m === "SURF") shape = <circle cx={x} cy={cy} r={10} fill={c} />;
        else shape = <polygon points={`${x},1 ${x + 18.5},${cy} ${x},37 ${x - 18.5},${cy}`} fill="none" stroke={c} strokeWidth={1.5} />;
        return (
          <g key={m}>
            {shape}
            <text x={labelX[m]} y={cy + 5} {...label}>{m}</text>
          </g>
        );
      })}
      <text x={717} y={cy + 7} {...head}>SNR</text>
      {keySnr.map((s, i) => (
        <g key={s}>
          <circle cx={snrX[i]} cy={cy} r={snrR[i]} fill="#000" />
          <text x={snrLabelX[i]} y={cy + 5} {...label}>{String(s)}</text>
        </g>
      ))}
    </svg>
  );
}

export default function App() {
  return (
    <div style={{ position: "absolute", left: 0, top: 0, width: 998, height: 1315, background: "#fff", overflow: "hidden" }}>
      <Panel spec={panelA}>{selScatters(selStdNormal)}</Panel>
      <Panel spec={panelB}>{selScatters(selGamma)}</Panel>
      <Panel spec={panelC}>{selScatters(selLnorm)}</Panel>
      <Panel spec={panelD}>{predScatters(predStdNormal, surfStdNormal)}</Panel>
      <Panel spec={panelE}>{predScatters(predGamma, surfGamma)}</Panel>
      <Panel spec={panelF}>{predScatters(predLnorm, surfLnorm)}</Panel>
      <Panel spec={panelG}>{selScatters(selT2)}</Panel>
      <Panel spec={panelH}>{selScatters(selT4)}</Panel>
      <Panel spec={panelI}>{selScatters(selPareto)}</Panel>
      <Panel spec={panelJ}>{predScatters(predT2, surfT2)}</Panel>
      <Panel spec={panelK}>{predScatters(predT4, surfT4)}</Panel>
      <Panel spec={panelL}>{predScatters(predPareto, surfPareto)}</Panel>
      <Captions />
      <MethodKey />
    </div>
  );
}
